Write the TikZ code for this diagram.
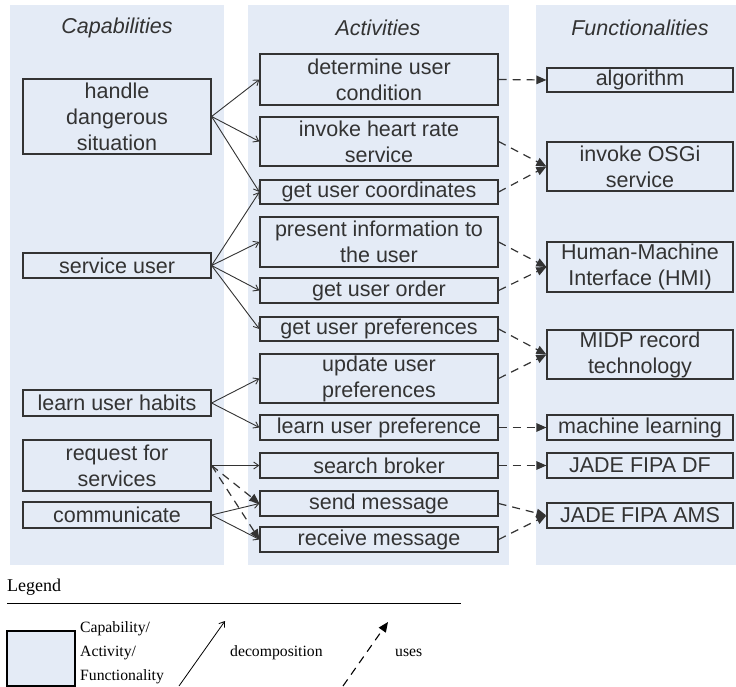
\documentclass[tikz,border=0pt]{standalone}
\usepackage{fontspec}
\setmainfont{Liberation Sans}
\newfontfamily\legendfont{Liberation Serif}
\usetikzlibrary{arrows.meta}
\definecolor{panel}{HTML}{E4EBF6}
\definecolor{ink}{HTML}{333333}
\tikzset{
  box/.style={draw=ink, fill=panel, line width=1.2pt, inner sep=0pt, align=center,
    text=ink, font=\fontsize{21.5}{26}\selectfont},
  capbox/.style={box, minimum width=188pt},
  actbox/.style={box, minimum width=238pt},
  funbox/.style={box, minimum width=186pt},
  header/.style={text=ink, font=\fontsize{21.5}{26}\selectfont\itshape},
  decomp/.style={draw=ink, line width=0.9pt, -{Straight Barb[length=5pt,width=7pt]}},
  usesarrow/.style={draw=ink, line width=1.2pt, dash pattern=on 8pt off 6pt,
    -{Triangle[length=10pt,width=8.5pt]}},
  legtext/.style={text=black, font=\legendfont\fontsize{15.7}{24}\selectfont, align=left, inner sep=0pt}
}
\begin{document}
\begin{tikzpicture}[x=1pt,y=-1pt]
\useasboundingbox (0,0) rectangle (736,687);
% panels
\fill[panel] (10,5) rectangle (224,565);
\fill[panel] (248,5) rectangle (509,565);
\fill[panel] (536,5) rectangle (736,565);
\node[header] (hcap) at (117,28) {Capabilities};
\node[header] (hact) at (378,28) {Activities};
\node[header] (hfun) at (640,28) {Functionalities};
% capabilities
\node[capbox, minimum height=75pt] (hds) at (117,116.5) {handle\\dangerous\\situation};
\node[capbox, minimum height=25pt] (su) at (117,265.5) {service user};
\node[capbox, minimum height=26pt] (luh) at (117,403) {learn user habits};
\node[capbox, minimum height=51pt] (rfs) at (117,465.5) {request for\\services};
\node[capbox, minimum height=26pt] (com) at (117,515) {communicate};
% activities
\node[actbox, minimum height=51pt] (duc) at (379,79.5) {determine user\\condition};
\node[actbox, minimum height=49pt] (ihr) at (379,141.5) {invoke heart rate\\service};
\node[actbox, minimum height=24pt] (guc) at (379,192) {get user coordinates};
\node[actbox, minimum height=50pt] (pit) at (379,242) {present information to\\the user};
\node[actbox, minimum height=25pt] (guo) at (379,290.5) {get user order};
\node[actbox, minimum height=24pt] (gup) at (379,329) {get user preferences};
\node[actbox, minimum height=49pt] (uup) at (379,378.5) {update user\\preferences};
\node[actbox, minimum height=25pt] (lup) at (379,427.5) {learn user preference};
\node[actbox, minimum height=25pt] (sb) at (379,465.5) {search broker};
\node[actbox, minimum height=25pt] (sm) at (379,503.5) {send message};
\node[actbox, minimum height=25pt] (rm) at (379,539.5) {receive message};
% functionalities
\node[funbox, minimum height=24pt] (alg) at (640,80) {algorithm};
\node[funbox, minimum height=49pt] (osgi) at (640,166.5) {invoke OSGi\\service};
\node[funbox, minimum height=50pt] (hmi) at (640,267) {Human-Machine\\Interface (HMI)};
\node[funbox, minimum height=49pt] (midp) at (640,354.5) {MIDP record\\technology};
\node[funbox, minimum height=25pt] (ml) at (640,427.5) {machine learning};
\node[funbox, minimum height=25pt] (df) at (640,465.5) {JADE FIPA DF};
\node[funbox, minimum height=25pt] (ams) at (640,515.5) {JADE FIPA AMS};
% decomposition
\draw[decomp] (hds.east) -- (duc.west);
\draw[decomp] (hds.east) -- (ihr.west);
\draw[decomp] (hds.east) -- (guc.west);
\draw[decomp] (su.east) -- (guc.west);
\draw[decomp] (su.east) -- (pit.west);
\draw[decomp] (su.east) -- (guo.west);
\draw[decomp] (su.east) -- (gup.west);
\draw[decomp] (luh.east) -- (uup.west);
\draw[decomp] (luh.east) -- (lup.west);
\draw[decomp] (rfs.east) -- (sb.west);
\draw[decomp] (com.east) -- (sm.west);
\draw[decomp] (com.east) -- (rm.west);
% uses
\draw[usesarrow] (rfs.east) -- (sm.west);
\draw[usesarrow] (rfs.east) -- (rm.west);
\draw[usesarrow] (duc.east) -- (alg.west);
\draw[usesarrow] (ihr.east) -- (osgi.west);
\draw[usesarrow] (guc.east) -- (osgi.west);
\draw[usesarrow] (pit.east) -- (hmi.west);
\draw[usesarrow] (guo.east) -- (hmi.west);
\draw[usesarrow] (gup.east) -- (midp.west);
\draw[usesarrow] (uup.east) -- (midp.west);
\draw[usesarrow] (lup.east) -- (ml.west);
\draw[usesarrow] (sb.east) -- (df.west);
\draw[usesarrow] (sm.east) -- (ams.west);
\draw[usesarrow] (rm.east) -- (ams.west);
% legend
\node[anchor=west, inner sep=0pt, font=\legendfont\fontsize{18}{22}\selectfont] (leg) at (7,587) {Legend};
\coordinate (ll1) at (7,603);
\coordinate (ll2) at (461,603);
\draw[line width=1pt] (ll1) -- (ll2);
\node[draw=black, fill=panel, line width=1.2pt, minimum width=68pt, minimum height=55pt, inner sep=0pt] (legbox) at (41,658.5) {};
\node[legtext, anchor=west] (legcap) at (80,653) {Capability/\\Activity/\\Functionality};
\coordinate (d1) at (179,686);
\coordinate (d2) at (225,621);
\draw[line width=0.8pt, -{Straight Barb[length=5pt,width=7pt]}] (d1) -- (d2);
\node[legtext, anchor=west] (legdec) at (230,653) {decomposition};
\coordinate (u1) at (343,686);
\coordinate (u2) at (388,622);
\draw[line width=1.1pt, dash pattern=on 8pt off 6pt, -{Triangle[length=10pt,width=8.5pt]}] (u1) -- (u2);
\node[legtext, anchor=west] (leguse) at (395,653) {uses};
\end{tikzpicture}
\end{document}
